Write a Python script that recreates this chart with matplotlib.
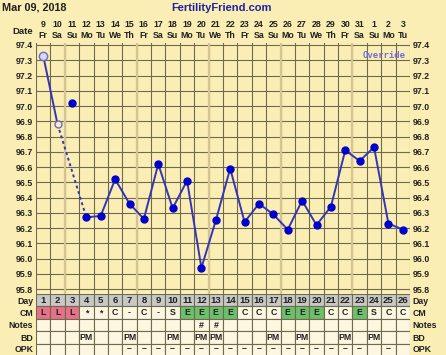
import matplotlib
matplotlib.use('Agg')
import matplotlib.pyplot as plt

# chart data
dates = ['9', '10', '11', '12', '13', '14', '15', '16', '17', '18', '19', '20', '21',
         '22', '23', '24', '25', '26', '27', '28', '29', '30', '31', '1', '2', '3']
weekdays = ['Fr', 'Sa', 'Su', 'Mo', 'Tu', 'We', 'Th', 'Fr', 'Sa', 'Su', 'Mo', 'Tu', 'We',
            'Th', 'Fr', 'Sa', 'Su', 'Mo', 'Tu', 'We', 'Th', 'Fr', 'Sa', 'Su', 'Mo', 'Tu']
days = list(range(1, 27))
temps = [97.33, 96.88, 97.02, 96.27, 96.28, 96.52, 96.36, 96.26, 96.62, 96.33, 96.51,
         95.94, 96.25, 96.59, 96.24, 96.36, 96.29, 96.19, 96.38, 96.22, 96.34, 96.71,
         96.64, 96.73, 96.23, 96.19]
override_days = [1, 2]
excluded_day = 3
cm = ['L', 'L', 'L', '*', '*', 'C', '-', 'C', '-', 'S', 'E', 'E', 'E',
      'E', 'C', 'C', 'C', 'E', 'E', 'E', 'C', 'C', 'E', 'S', 'C', 'C']
notes = {12: '#', 13: '#'}
bd_days = [4, 7, 10, 12, 13, 17, 19, 22, 24]
opk_days = [7, 8, 9, 10, 11, 12, 13, 14, 15, 16, 17, 18, 19, 20, 21, 22, 23, 25]
row_names = ['Day', 'CM', 'Notes', 'BD', 'OPK']
y_ticks = [95.8, 95.9, 96.0, 96.1, 96.2, 96.3, 96.4, 96.5, 96.6, 96.7, 96.8, 96.9,
           97.0, 97.1, 97.2, 97.3, 97.4]

bg = '#FBEEB4'
grid_col = '#6E6A50'
tan_col = '#D4C493'
cell_col = '#FDF6E0'
day_col = '#C8C8C8'
cm_colors = {'L': '#E8708A', 'E': '#6CC06C'}
txt = '#202020'
line_col = '#3535B5'
dot_col = '#0000CC'

plt.rcParams['font.family'] = 'Liberation Sans'
plt.rcParams['font.weight'] = 'bold'
plt.rcParams['font.size'] = 6.3

W, H = 446, 355
fig = plt.figure(figsize=(W / 100, H / 100), dpi=100, facecolor=bg)


def box(x0, y0, x1, y1):
    # pixel box (top-left origin) -> figure fraction rect
    return [x0 / W, 1 - y1 / H, (x1 - x0) / W, (y1 - y0) / H]


# temperature grid
ax = fig.add_axes(box(36, 43, 410, 294))
ax.set_facecolor(bg)
ax.set_xlim(0.5, 26.5)
ax.set_ylim(95.768, 97.413)
ax.set_yticks(y_ticks)
ax.set_yticklabels(['%.1f' % t for t in y_ticks])
ax.set_xticks(days)
ax.set_xticklabels(['%s\n%s' % (d, w) for d, w in zip(dates, weekdays)], linespacing=1.25)
ax.set_xticks([d + 0.5 for d in range(0, 27)], minor=True)
ax.xaxis.tick_top()
ax.tick_params(axis='x', which='both', length=0, pad=2, colors=txt)
ax.tick_params(axis='y', which='both', length=0, pad=2, colors=txt,
               labelleft=True, labelright=True)
ax.yaxis.set_ticks_position('both')
ax.grid(True, axis='y', color=grid_col, linewidth=0.8)
ax.grid(True, axis='x', which='minor', color=grid_col, linewidth=0.8)
for b in [2.5, 7.5, 12.5, 17.5, 22.5]:
    ax.axvline(b, color=tan_col, linewidth=1.6, zorder=1.5)
for s in ax.spines.values():
    s.set_visible(False)
ax.set_axisbelow(True)

# lines: solid first segment, dotted over the excluded day, then solid
ax.plot(days[0:2], temps[0:2], color=line_col, linewidth=1.4, zorder=3)
ax.plot([days[1], days[3]], [temps[1], temps[3]], color=line_col, linewidth=1.4,
        linestyle=(0, (1.5, 1.5)), zorder=3)
ax.plot(days[3:], temps[3:], color=line_col, linewidth=1.4, zorder=3,
        marker='o', markersize=5, markerfacecolor=dot_col, markeredgecolor=dot_col)
ax.plot([excluded_day], [temps[excluded_day - 1]], 'o', markersize=5, color=dot_col, zorder=4)
ax.plot([1], [temps[0]], 'o', markersize=6, markerfacecolor='#D8D8F4',
        markeredgecolor='#6A6AD0', markeredgewidth=1, zorder=4)
ax.plot([2], [temps[1]], 'o', markersize=5, markerfacecolor=bg,
        markeredgecolor='#6A6AD0', markeredgewidth=1, zorder=4)
ax.text(26.2, 97.33, 'Override', color='#7070D8', ha='right', va='center', fontsize=6.5,
        family='DejaVu Sans Mono')

# chart table
tb = fig.add_axes(box(36, 294, 410, 356))
tb.set_facecolor(bg)
tb.set_xlim(0.5, 26.5)
tb.set_ylim(5, 0)
for i, d in enumerate(days):
    tb.bar(d, 1, bottom=0, width=1, color=day_col, edgecolor=grid_col, linewidth=0.8)
    tb.bar(d, 1, bottom=1, width=1, color=cm_colors.get(cm[i], cell_col),
           edgecolor=grid_col, linewidth=0.8)
    for r in [2, 3, 4]:
        tb.bar(d, 1, bottom=r, width=1, color=cell_col, edgecolor=grid_col, linewidth=0.8)
    tb.text(d, 0.5, str(d), ha='center', va='center', color=txt, fontsize=6.8)
    tb.text(d, 1.5, cm[i], ha='center', va='center', color=txt)
for d, n in notes.items():
    tb.text(d, 2.5, n, ha='center', va='center', color=txt)
for d in bd_days:
    tb.text(d, 3.5, 'PM', ha='center', va='center', color=txt)
for d in opk_days:
    tb.text(d, 4.4, '–', ha='center', va='center', color=txt)
tb.set_xticks([])
tb.set_yticks([0.5, 1.5, 2.5, 3.5, 4.4])
tb.set_yticklabels(row_names)
tb.yaxis.set_ticks_position('both')
tb.tick_params(axis='y', length=0, pad=2, colors=txt, labelleft=True, labelright=True)
for s in tb.spines.values():
    s.set_visible(False)

fig.text(2 / W, 1 - 8 / H, 'Mar 09, 2018', ha='left', va='center', color=txt, fontsize=7.8)
fig.text(221 / W, 1 - 8 / H, 'FertilityFriend.com', ha='center', va='center',
         color='#2020A0', fontsize=8)
fig.text(33 / W, 1 - 31 / H, 'Date', ha='right', va='center', color=txt, fontsize=6.8)

fig.savefig('out.png', dpi=100, facecolor=bg)
